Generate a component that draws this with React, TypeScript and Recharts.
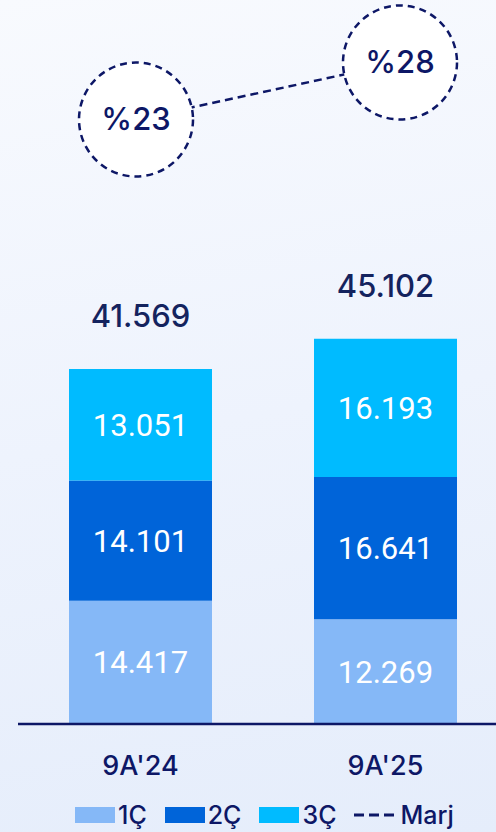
import { ComposedChart, Bar, Line, XAxis, YAxis, LabelList } from "recharts";

const categories = ["9A'24", "9A'25"];
const q1 = [14417, 12269];
const q2 = [14101, 16641];
const q3 = [13051, 16193];
const totals = [41569, 45102];
const margin = [23, 28];

const data = categories.map((name, i) => ({
  name,
  q1: q1[i],
  q2: q2[i],
  q3: q3[i],
  total: totals[i],
  marj: margin[i],
}));

const NAVY = "#0d1766";
const fmt = (v: number) => v.toLocaleString("tr-TR");

const MarginDot = (props: any) => {
  const { cx, cy, value } = props;
  return (
    <g>
      <circle cx={cx} cy={cy} r={57} fill="#ffffff" stroke={NAVY} strokeWidth={2.5} strokeDasharray="7 5" />
      <text x={cx} y={cy} dy={11} textAnchor="middle" fill={NAVY} fontSize={31} fontWeight={500} fontFamily="Inter">
        %{value}
      </text>
    </g>
  );
};

const TotalLabel = (props: any) => {
  const { x, y, width, index } = props;
  return (
    <text x={x + width / 2} y={y - 42} textAnchor="middle" fill="#14235e" fontSize={31} fontWeight={500} fontFamily="Inter">
      {fmt(totals[index])}
    </text>
  );
};

const InnerLabel = (props: any) => {
  const { x, y, width, height, value } = props;
  return (
    <text x={x + width / 2} y={y + height / 2} dy={11} textAnchor="middle" fill="#ffffff" fontSize={31} fontFamily="Roboto">
      {fmt(value)}
    </text>
  );
};

const legendItems = [
  { label: "1Ç", color: "#85b8f7" },
  { label: "2Ç", color: "#0064d9" },
  { label: "3Ç", color: "#00bbff" },
];

export default function App() {
  return (
    <div
      style={{
        position: "absolute",
        left: 0,
        top: 0,
        width: 496,
        height: 832,
        overflow: "hidden",
        background: "linear-gradient(170deg, #f8fafe 0%, #eef3fd 50%, #e5edfb 100%)",
      }}
    >
      <ComposedChart width={508} height={832} data={data} margin={{ top: 10, right: 0, bottom: 0, left: 18 }}>
        <XAxis
          xAxisId="bars"
          dataKey="name"
          axisLine={{ stroke: NAVY, strokeWidth: 2.5 }}
          tickLine={false}
          tick={{ fill: NAVY, fontSize: 27, fontWeight: 500, fontFamily: "Inter" }}
          tickMargin={26}
          height={108}
        />
        <XAxis xAxisId="line" dataKey="name" scale="point" padding={{ left: 118, right: 108 }} hide />
        <YAxis yAxisId="left" domain={[0, 83600]} hide />
        <YAxis yAxisId="right" domain={[-30, 32.6]} hide />
        <Bar xAxisId="bars" yAxisId="left" dataKey="q1" stackId="a" fill="#85b8f7" barSize={143} isAnimationActive={false}>
          <LabelList dataKey="q1" content={InnerLabel} />
        </Bar>
        <Bar xAxisId="bars" yAxisId="left" dataKey="q2" stackId="a" fill="#0064d9" barSize={143} isAnimationActive={false}>
          <LabelList dataKey="q2" content={InnerLabel} />
        </Bar>
        <Bar xAxisId="bars" yAxisId="left" dataKey="q3" stackId="a" fill="#00bbff" barSize={143} isAnimationActive={false}>
          <LabelList dataKey="q3" content={InnerLabel} />
          <LabelList dataKey="total" content={TotalLabel} />
        </Bar>
        <Line
          xAxisId="line"
          yAxisId="right"
          dataKey="marj"
          stroke={NAVY}
          strokeWidth={2.5}
          strokeDasharray="8 5"
          dot={<MarginDot />}
          activeDot={false}
          isAnimationActive={false}
        />
      </ComposedChart>
      <div
        style={{
          position: "absolute",
          top: 800,
          left: 75,
          display: "flex",
          alignItems: "center",
          fontFamily: "Inter",
          fontSize: 25,
          fontWeight: 500,
          color: NAVY,
          lineHeight: "30px",
        }}
      >
        {legendItems.map((it) => (
          <div key={it.label} style={{ display: "flex", alignItems: "center", marginRight: 18 }}>
            <span style={{ width: 40, height: 16, background: it.color, marginRight: 3 }} />
            <span>{it.label}</span>
          </div>
        ))}
        <div style={{ display: "flex", alignItems: "center" }}>
          <svg width={40} height={4} style={{ marginRight: 6 }}>
            <line x1={0} y1={2} x2={40} y2={2} stroke={NAVY} strokeWidth={3} strokeDasharray="10 5" />
          </svg>
          <span>Marj</span>
        </div>
      </div>
    </div>
  );
}
